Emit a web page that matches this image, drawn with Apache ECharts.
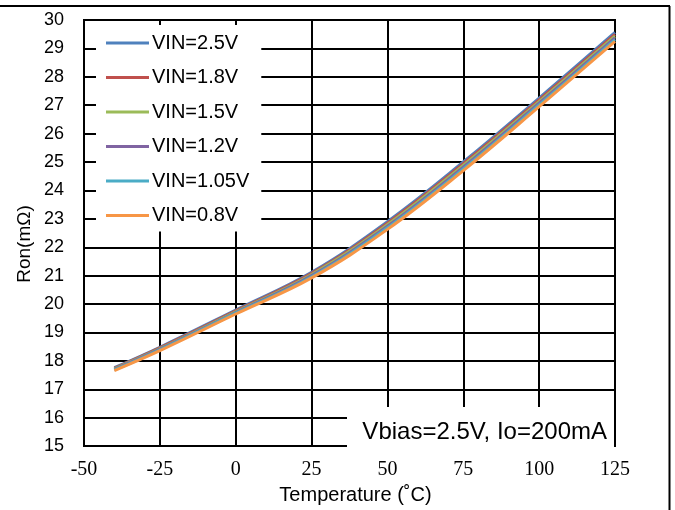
<!DOCTYPE html>
<html>
<head>
<meta charset="utf-8">
<script src="https://cdn.jsdelivr.net/npm/echarts@6/dist/echarts.min.js"></script>
<style>
html,body{margin:0;padding:0;background:#fff;}
#chart{width:675px;height:510px;}
</style>
</head>
<body>
<div id="chart"></div>
<script>
const temperatures = [-40, -25, 0, 25, 50, 75, 100, 125];
const seriesNames = ['VIN=2.5V', 'VIN=1.8V', 'VIN=1.5V', 'VIN=1.2V', 'VIN=1.05V', 'VIN=0.8V'];
const vin25 = [17.76, 18.48, 19.79, 21.12, 22.90, 25.00, 27.25, 29.56];
const vin18 = [17.74, 18.46, 19.76, 21.08, 22.85, 24.94, 27.19, 29.49];
const vin15 = [17.72, 18.43, 19.73, 21.04, 22.79, 24.88, 27.13, 29.43];
const vin12 = [17.70, 18.41, 19.70, 21.00, 22.74, 24.82, 27.07, 29.37];
const vin105 = [17.68, 18.39, 19.68, 20.96, 22.69, 24.76, 27.01, 29.31];
const vin08 = [17.66, 18.36, 19.65, 20.92, 22.63, 24.70, 26.95, 29.25];
const seriesValues = [vin25, vin18, vin15, vin12, vin105, vin08];
const colors = ['#4F81BD', '#C0504D', '#9BBB59', '#8064A2', '#4BACC6', '#F79646'];
const xTickMin = -50, xTickMax = 125, xTickStep = 25;
const yTickMin = 15, yTickMax = 30, yTickStep = 1;
const xTitle = 'Temperature (\u02DAC)';
const yTitle = 'Ron(m\u03A9)';
const note = 'Vbias=2.5V, Io=200mA';

const chart = echarts.init(document.getElementById('chart'), null, {renderer: 'canvas'});

const series = seriesNames.map((name, i) => ({
  name: name,
  type: 'line',
  smooth: 0.4,
  symbol: 'none',
  color: colors[i],
  lineStyle: {width: 3, color: colors[i]},
  data: temperatures.map((t, j) => [t, seriesValues[i][j]]),
  z: 3
}));

chart.setOption({
  animation: false,
  backgroundColor: '#fff',
  grid: {left: 84, top: 20, width: 531, height: 432, show: true, borderColor: '#000', borderWidth: 2, backgroundColor: 'transparent'},
  xAxis: {
    type: 'value', min: xTickMin, max: xTickMax, interval: xTickStep,
    name: xTitle, nameLocation: 'middle', nameGap: 34,
    nameTextStyle: {fontFamily: 'Liberation Sans', fontSize: 20, color: '#000', padding: [0, 0, 0, 12]},
    axisLine: {show: false}, axisTick: {show: false},
    axisLabel: {fontFamily: 'Liberation Serif', fontSize: 20, color: '#000', margin: 14},
    splitLine: {show: true, lineStyle: {color: '#000', width: 2}}
  },
  yAxis: {
    type: 'value', min: yTickMin, max: yTickMax, interval: yTickStep,
    axisLine: {show: false}, axisTick: {show: false},
    axisLabel: {fontFamily: 'Liberation Sans', fontSize: 18, color: '#000', margin: 20},
    splitLine: {show: true, lineStyle: {color: '#000', width: 2}}
  },
  legend: {
    orient: 'vertical', left: 96, top: 25,
    backgroundColor: '#fff',
    padding: [7, 12, 5, 10],
    itemWidth: 43, itemHeight: 3, itemGap: 12.5,
    textStyle: {fontFamily: 'Liberation Sans', fontSize: 20, color: '#000', lineHeight: 22, padding: [0, 0, 0, -2]},
    data: seriesNames.map(n => ({name: n, icon: 'rect'}))
  },
  graphic: [
    {type: 'rect', z: 100, shape: {x: 347, y: 407, width: 267, height: 40}, style: {fill: '#fff'}},
    {type: 'text', z: 101, x: 607, y: 432, style: {text: note, font: '24px "Liberation Sans"', fill: '#000', textAlign: 'right', textVerticalAlign: 'middle'}},
    {type: 'text', z: 101, x: 25, y: 244, rotation: Math.PI / 2, style: {text: yTitle, font: '19px "Liberation Sans"', fill: '#000', textAlign: 'center', textVerticalAlign: 'middle'}},
    {type: 'line', z: 101, shape: {x1: 0, y1: 6, x2: 670, y2: 6}, style: {stroke: '#000', lineWidth: 2}},
    {type: 'line', z: 101, shape: {x1: 669.5, y1: 6, x2: 669.5, y2: 510}, style: {stroke: '#000', lineWidth: 2}}
  ],
  series: series
});
</script>
</body>
</html>
